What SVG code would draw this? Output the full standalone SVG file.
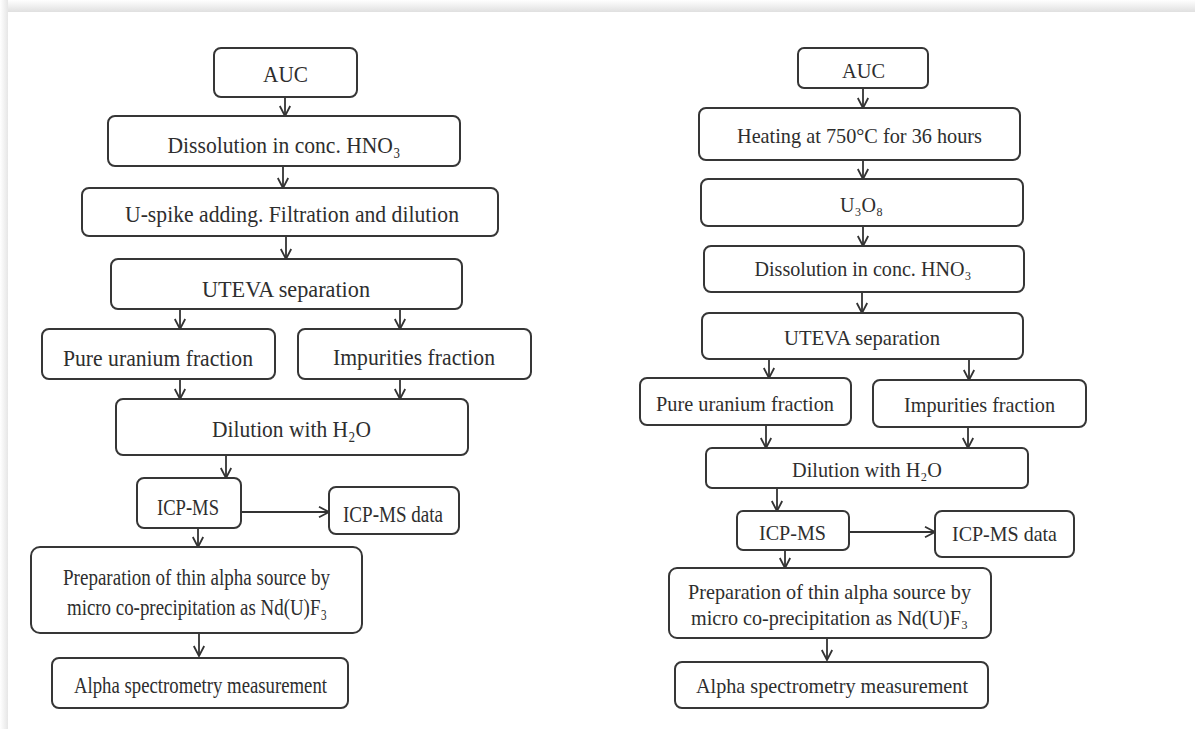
<svg xmlns="http://www.w3.org/2000/svg" width="1195" height="729" viewBox="0 0 1195 729">
<defs>
<linearGradient id="gTop" x1="0" y1="0" x2="0" y2="1"><stop offset="0" stop-color="#ffffff"/><stop offset="1" stop-color="#e0e0e0"/></linearGradient>
<linearGradient id="gLeft" x1="0" y1="0" x2="1" y2="0"><stop offset="0" stop-color="#ffffff"/><stop offset="1" stop-color="#e6e6e6"/></linearGradient>
<marker id="arr" viewBox="0 0 12 12" refX="11" refY="6" markerWidth="12" markerHeight="12" markerUnits="userSpaceOnUse" orient="auto">
<polyline points="1,0.8 11,6 1,11.2" fill="none" stroke="#333" stroke-width="1.8"/>
</marker>
<style>
.box{fill:#fff;stroke:#363636;stroke-width:2}
.t{font-family:"Liberation Serif","Times New Roman","DejaVu Serif",serif;fill:#2e2e2e;text-anchor:middle}
.l{font-size:24px}
.r{font-size:21px}
.c{fill:none;stroke:#333;stroke-width:1.8}
</style>
</defs>
<rect x="0" y="0" width="1195" height="729" fill="#fff"/>
<rect x="0" y="0" width="1195" height="12" fill="url(#gTop)"/>
<rect x="0" y="0" width="8" height="729" fill="url(#gLeft)"/>
<rect x="8" y="12" width="1187" height="717" fill="#fff"/>

<g id="connectors">
<line class="c" x1="285" y1="97" x2="285" y2="116" marker-end="url(#arr)"/>
<line class="c" x1="283" y1="166" x2="283" y2="188" marker-end="url(#arr)"/>
<line class="c" x1="286" y1="236" x2="286" y2="259" marker-end="url(#arr)"/>
<line class="c" x1="180" y1="309" x2="180" y2="329" marker-end="url(#arr)"/>
<line class="c" x1="400" y1="309" x2="400" y2="329" marker-end="url(#arr)"/>
<line class="c" x1="180" y1="379" x2="180" y2="399" marker-end="url(#arr)"/>
<line class="c" x1="400" y1="379" x2="400" y2="399" marker-end="url(#arr)"/>
<line class="c" x1="226" y1="455" x2="226" y2="478" marker-end="url(#arr)"/>
<line class="c" x1="241" y1="512" x2="329" y2="512" marker-end="url(#arr)"/>
<line class="c" x1="198" y1="528" x2="198" y2="547" marker-end="url(#arr)"/>
<line class="c" x1="199" y1="633" x2="199" y2="656" marker-end="url(#arr)"/>

<line class="c" x1="863" y1="88" x2="863" y2="108" marker-end="url(#arr)"/>
<line class="c" x1="863" y1="160" x2="863" y2="179" marker-end="url(#arr)"/>
<line class="c" x1="863" y1="226" x2="863" y2="246" marker-end="url(#arr)"/>
<line class="c" x1="862" y1="292" x2="862" y2="313" marker-end="url(#arr)"/>
<line class="c" x1="769" y1="359" x2="769" y2="378" marker-end="url(#arr)"/>
<line class="c" x1="969" y1="359" x2="969" y2="380" marker-end="url(#arr)"/>
<line class="c" x1="766" y1="425" x2="766" y2="448" marker-end="url(#arr)"/>
<line class="c" x1="968" y1="427" x2="968" y2="448" marker-end="url(#arr)"/>
<line class="c" x1="777" y1="488" x2="777" y2="511" marker-end="url(#arr)"/>
<line class="c" x1="849" y1="532" x2="935" y2="532" marker-end="url(#arr)"/>
<line class="c" x1="785" y1="550" x2="785" y2="568" marker-end="url(#arr)"/>
<line class="c" x1="827" y1="638" x2="827" y2="660" marker-end="url(#arr)"/>
</g>

<g id="L-auc"><rect class="box" x="214" y="48" width="143" height="49" rx="7"/><text class="t l" x="285.5" y="82" textLength="45" lengthAdjust="spacingAndGlyphs">AUC</text></g>
<g id="L-dissolution"><rect class="box" x="108" y="116" width="352" height="50" rx="7"/><text class="t l" x="284" y="153" textLength="233" lengthAdjust="spacingAndGlyphs">Dissolution in conc. HNO₃</text></g>
<g id="L-uspike"><rect class="box" x="82" y="188" width="416" height="48" rx="7"/><text class="t l" x="292" y="222" textLength="334" lengthAdjust="spacingAndGlyphs">U-spike adding. Filtration and dilution</text></g>
<g id="L-uteva"><rect class="box" x="111" y="259" width="351" height="50" rx="7"/><text class="t l" x="286" y="297" textLength="168" lengthAdjust="spacingAndGlyphs">UTEVA separation</text></g>
<g id="L-pure"><rect class="box" x="42" y="329" width="233" height="50" rx="7"/><text class="t l" x="158" y="366" textLength="190" lengthAdjust="spacingAndGlyphs">Pure uranium fraction</text></g>
<g id="L-impurities"><rect class="box" x="298" y="329" width="233" height="50" rx="7"/><text class="t l" x="414" y="365" textLength="162" lengthAdjust="spacingAndGlyphs">Impurities fraction</text></g>
<g id="L-dilution"><rect class="box" x="116" y="399" width="352" height="56" rx="7"/><text class="t l" x="291.5" y="437" textLength="159" lengthAdjust="spacingAndGlyphs">Dilution with H₂O</text></g>
<g id="L-icpms"><rect class="box" x="137" y="478" width="104" height="50" rx="7"/><text class="t l" x="188" y="515" textLength="62" lengthAdjust="spacingAndGlyphs">ICP-MS</text></g>
<g id="L-icpdata"><rect class="box" x="329" y="487" width="130" height="47" rx="7"/><text class="t l" x="393" y="522" textLength="100" lengthAdjust="spacingAndGlyphs">ICP-MS data</text></g>
<g id="L-prep"><rect class="box" x="31" y="547" width="331" height="86" rx="9"/><text class="t l" x="196.5" y="585" textLength="267" lengthAdjust="spacingAndGlyphs">Preparation of thin alpha source by</text><text class="t l" x="197" y="615" textLength="260" lengthAdjust="spacingAndGlyphs">micro co-precipitation as Nd(U)F₃</text></g>
<g id="L-alpha"><rect class="box" x="52" y="658" width="296" height="50" rx="7"/><text class="t l" x="200.5" y="693" textLength="253" lengthAdjust="spacingAndGlyphs">Alpha spectrometry measurement</text></g>

<g id="R-auc"><rect class="box" x="798" y="48" width="130" height="40" rx="6"/><text class="t r" x="863.5" y="78" textLength="43" lengthAdjust="spacingAndGlyphs">AUC</text></g>
<g id="R-heating"><rect class="box" x="699" y="108" width="321" height="52" rx="7"/><text class="t r" x="859.5" y="143" textLength="245" lengthAdjust="spacingAndGlyphs">Heating at 750°C for 36 hours</text></g>
<g id="R-u3o8"><rect class="box" x="701" y="179" width="322" height="47" rx="7"/><text class="t r" x="861.5" y="212" textLength="43" lengthAdjust="spacingAndGlyphs">U₃O₈</text></g>
<g id="R-dissolution"><rect class="box" x="704" y="246" width="320" height="46" rx="7"/><text class="t r" x="863" y="276" textLength="217" lengthAdjust="spacingAndGlyphs">Dissolution in conc. HNO₃</text></g>
<g id="R-uteva"><rect class="box" x="702" y="313" width="321" height="46" rx="7"/><text class="t r" x="862" y="345" textLength="156" lengthAdjust="spacingAndGlyphs">UTEVA separation</text></g>
<g id="R-pure"><rect class="box" x="640" y="378" width="211" height="47" rx="7"/><text class="t r" x="745" y="411" textLength="178" lengthAdjust="spacingAndGlyphs">Pure uranium fraction</text></g>
<g id="R-impurities"><rect class="box" x="873" y="380" width="213" height="47" rx="7"/><text class="t r" x="979.5" y="412" textLength="151" lengthAdjust="spacingAndGlyphs">Impurities fraction</text></g>
<g id="R-dilution"><rect class="box" x="706" y="448" width="322" height="40" rx="6"/><text class="t r" x="867" y="477" textLength="150" lengthAdjust="spacingAndGlyphs">Dilution with H₂O</text></g>
<g id="R-icpms"><rect class="box" x="737" y="511" width="112" height="39" rx="6"/><text class="t r" x="792.5" y="540" textLength="67" lengthAdjust="spacingAndGlyphs">ICP-MS</text></g>
<g id="R-icpdata"><rect class="box" x="935" y="511" width="139" height="46" rx="7"/><text class="t r" x="1004.5" y="541" textLength="105" lengthAdjust="spacingAndGlyphs">ICP-MS data</text></g>
<g id="R-prep"><rect class="box" x="669" y="568" width="322" height="70" rx="8"/><text class="t r" x="829.5" y="599" textLength="283" lengthAdjust="spacingAndGlyphs">Preparation of thin alpha source by</text><text class="t r" x="829.5" y="625" textLength="277" lengthAdjust="spacingAndGlyphs">micro co-precipitation as Nd(U)F₃</text></g>
<g id="R-alpha"><rect class="box" x="675" y="662" width="313" height="46" rx="7"/><text class="t r" x="832" y="693" textLength="272" lengthAdjust="spacingAndGlyphs">Alpha spectrometry measurement</text></g>
</svg>
